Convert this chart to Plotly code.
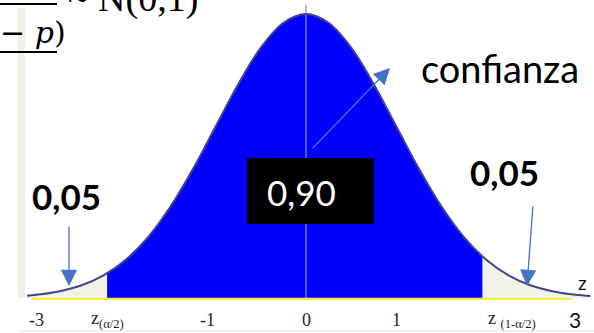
import plotly.graph_objects as go

# ---- data ----
z_curve = [-3.1, -3.0, -2.75, -2.5, -2.25, -2.0, -1.75, -1.5, -1.25, -1.0, -0.75, -0.5, -0.25,
           0.0, 0.25, 0.5, 0.75, 1.0, 1.25, 1.5, 1.75, 2.0, 2.25, 2.5, 2.75, 3.0, 3.16]
density = [0.0033, 0.0044, 0.0091, 0.0175, 0.0317, 0.054, 0.0863, 0.1295, 0.1826, 0.242, 0.3011, 0.3521, 0.3867,
           0.3989, 0.3867, 0.3521, 0.3011, 0.242, 0.1826, 0.1295, 0.0863, 0.054, 0.0317, 0.0175, 0.0091, 0.0044, 0.0027]
conf_bounds = [-2.21, 1.96]
conf_bound_density = [0.0347, 0.0584]

tick_positions = [-3.0, -2.21, -1.09, 0.0, 1.01, 2.29, 2.99]
tick_labels = ["-3", "z<sub>(α/2)</sub>", "-1", "0", "1", "z <sub>(1-α/2)</sub>", "3"]

central_area_label = "0,90"
tail_area_labels = ["0,05", "0,05"]
confidence_label = "confianza"

# ---- geometry helpers (figure pixel -> paper) ----
W, H = 594, 333
def px(x):
    return x / W
def py(y):
    return 1 - y / H

lo, hi = conf_bounds
d_lo, d_hi = conf_bound_density

conf_x = [lo] + [z for z in z_curve if lo < z < hi] + [hi]
conf_y = [d_lo] + [d for z, d in zip(z_curve, density) if lo < z < hi] + [d_hi]
tl_x = [z for z in z_curve if z < lo] + [lo]
tl_y = [d for z, d in zip(z_curve, density) if z < lo] + [d_lo]
tr_x = [hi] + [z for z in z_curve if z > hi]
tr_y = [d_hi] + [d for z, d in zip(z_curve, density) if z > hi]

fig = go.Figure()
# tails (light shading)
for xs, ys in [(tl_x, tl_y), (tr_x, tr_y)]:
    fig.add_trace(go.Scatter(x=xs, y=ys, mode="lines", fill="tozeroy",
                             fillcolor="#f1f2e8", line=dict(width=0, shape="spline"),
                             hoverinfo="skip", showlegend=False))
# central confidence region
fig.add_trace(go.Scatter(x=conf_x, y=conf_y, mode="lines", fill="tozeroy",
                         fillcolor="#0000ff", line=dict(width=0, shape="spline"),
                         hoverinfo="skip", showlegend=False))
# center line
fig.add_trace(go.Scatter(x=[0, 0], y=[0, 0.4116], mode="lines",
                         line=dict(color="#8c8cd8", width=1.2), hoverinfo="skip", showlegend=False))
# baseline (yellow)
fig.add_trace(go.Scatter(x=[-3.05, 2.95], y=[-0.0012, -0.0012], mode="lines",
                         line=dict(color="#f2f03c", width=2.2), hoverinfo="skip", showlegend=False))
# density curve
fig.add_trace(go.Scatter(x=z_curve, y=density, mode="lines",
                         line=dict(color="#43438a", width=2, shape="spline"),
                         hoverinfo="skip", showlegend=False))

shapes = []
# left light strip
shapes.append(dict(type="rect", xref="paper", yref="paper", x0=px(18), x1=px(25), y0=py(298), y1=py(8),
                   fillcolor="#f1f1e3", line=dict(width=0), layer="below"))
# bottom faint line
shapes.append(dict(type="line", xref="paper", yref="paper", x0=px(18), x1=px(594), y0=py(331), y1=py(331),
                   line=dict(color="#e4e4e4", width=1)))
# black box
shapes.append(dict(type="rect", xref="paper", yref="paper", x0=px(247), x1=px(374), y0=py(224), y1=py(158),
                   fillcolor="#000000", line=dict(width=0)))
# formula fraction lines
shapes.append(dict(type="line", xref="paper", yref="paper", x0=px(0), x1=px(57), y0=py(4), y1=py(4),
                   line=dict(color="#000", width=2)))
shapes.append(dict(type="line", xref="paper", yref="paper", x0=px(0), x1=px(57), y0=py(52), y1=py(52),
                   line=dict(color="#000", width=2)))

ann = []
# tick labels
for pos, lab in zip(tick_positions, tick_labels):
    if lab == "3":
        f = dict(family="Lato, sans-serif", size=21, color="#111")
    else:
        f = dict(family="Liberation Serif, serif", size=18, color="#222")
    ann.append(dict(x=pos, y=(298 - 320) / 711.8, xref="x", yref="y", text=lab, showarrow=False,
                    font=f, xanchor="center", yanchor="middle"))
# 'z' axis name
ann.append(dict(x=px(582), y=py(282), xref="paper", yref="paper", text="z", showarrow=False,
                xanchor="center", yanchor="middle",
                font=dict(family="Lato, sans-serif", size=19, color="#111")))
# box text
ann.append(dict(x=px(301), y=py(192), xref="paper", yref="paper", text=central_area_label, showarrow=False,
                xanchor="center", yanchor="middle",
                font=dict(family="Lato, sans-serif", size=35, color="#ffffff")))
# tail labels
ann.append(dict(x=px(66), y=py(196), xref="paper", yref="paper", text="<b>%s</b>" % tail_area_labels[0],
                xanchor="center", yanchor="middle",
                showarrow=False, font=dict(family="Lato, sans-serif", size=35, color="#000")))
ann.append(dict(x=px(504), y=py(172), xref="paper", yref="paper", text="<b>%s</b>" % tail_area_labels[1],
                xanchor="center", yanchor="middle",
                showarrow=False, font=dict(family="Lato, sans-serif", size=35, color="#000")))
# confianza
ann.append(dict(x=px(500), y=py(68), xref="paper", yref="paper", text=confidence_label, showarrow=False,
                xanchor="center", yanchor="middle",
                font=dict(family="Lato, sans-serif", size=38, color="#000")))
# arrows
for (x0, y0, x1, y1) in [(69, 225, 69, 286), (533, 205, 527, 286), (311, 150, 390, 68)]:
    ann.append(dict(x=px(x1), y=py(y1), xref="paper", yref="paper", ax=x0 - x1, ay=y0 - y1,
                    axref="pixel", ayref="pixel", text="", showarrow=True, arrowhead=2,
                    arrowsize=2.5, arrowwidth=1.3, arrowcolor="#4472c4"))
# formula fragments
ann.append(dict(x=px(-2), y=py(33), xref="paper", yref="paper", text="− <i>p</i>)", showarrow=False,
                xanchor="left", yanchor="middle",
                font=dict(family="DejaVu Serif, serif", size=30, color="#000")))
ann.append(dict(x=px(66), y=py(-1), xref="paper", yref="paper", text="~ N(0,1)", showarrow=False,
                xanchor="left", yanchor="middle",
                font=dict(family="Liberation Serif, serif", size=38, color="#000")))

fig.update_layout(
    width=W, height=H, margin=dict(l=0, r=0, t=0, b=0),
    paper_bgcolor="white", plot_bgcolor="white",
    xaxis=dict(range=[-3.4, 3.2], visible=False, fixedrange=True),
    yaxis=dict(range=[-0.0492, 0.4187], visible=False, fixedrange=True),
    shapes=shapes, annotations=ann, showlegend=False,
)
fig.write_html("out.html", post_script="document.body.style.margin='0';",
               config={"displayModeBar": False})
